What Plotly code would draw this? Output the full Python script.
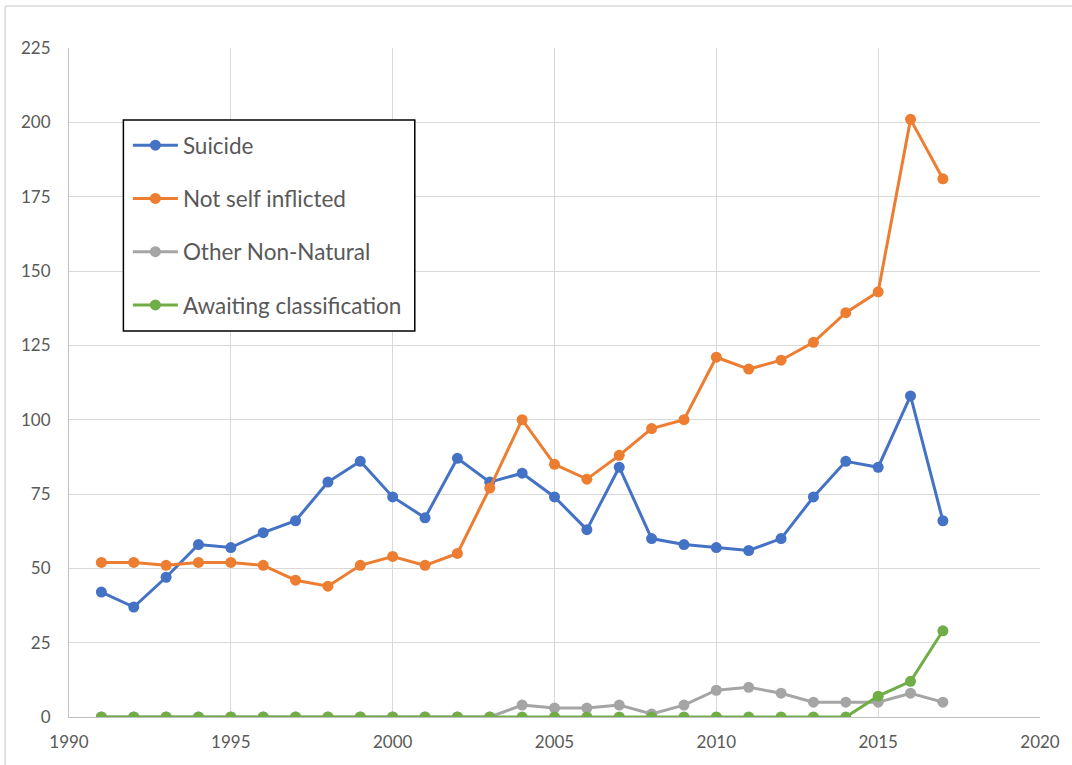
import plotly.graph_objects as go

years = list(range(1991, 2018))
suicide = [42, 37, 47, 58, 57, 62, 66, 79, 86, 74, 67, 87, 79, 82, 74, 63, 84, 60, 58, 57, 56, 60, 74, 86, 84, 108, 66]
not_self = [52, 52, 51, 52, 52, 51, 46, 44, 51, 54, 51, 55, 77, 100, 85, 80, 88, 97, 100, 121, 117, 120, 126, 136, 143, 201, 181]
other_nn = [0, 0, 0, 0, 0, 0, 0, 0, 0, 0, 0, 0, 0, 4, 3, 3, 4, 1, 4, 9, 10, 8, 5, 5, 5, 8, 5]
awaiting = [0, 0, 0, 0, 0, 0, 0, 0, 0, 0, 0, 0, 0, 0, 0, 0, 0, 0, 0, 0, 0, 0, 0, 0, 7, 12, 29]

series = [
    ("Suicide", suicide, "#4472C4"),
    ("Not self inflicted", not_self, "#ED7D31"),
    ("Other Non-Natural", other_nn, "#A5A5A5"),
    ("Awaiting classification", awaiting, "#70AD47"),
]

FONT = "Lato"
fig = go.Figure()
for i, (name, vals, col) in enumerate(series):
    fig.add_trace(go.Scatter(
        x=years, y=vals, name=name, mode="lines+markers",
        line=dict(color=col, width=3),
        marker=dict(color=col, size=11),
        legendgroup=f"g{i}",
    ))

W, H = 1072, 765
L, R, T, B = 69, 30, 48, 48
pw, ph = W - L - R, H - T - B

def px_x(p):
    return (p - L) / pw

def px_y(p):
    return (H - B - p) / ph

fig.update_layout(
    width=W, height=H,
    margin=dict(l=L, r=R, t=T, b=B),
    paper_bgcolor="white", plot_bgcolor="white",
    font=dict(family=FONT, color="#595959", size=17),
    legend=dict(
        x=px_x(128), y=px_y(124), xanchor="left", yanchor="top",
        bgcolor="rgba(0,0,0,0)", borderwidth=0,
        font=dict(size=22.5, color="#595959", family=FONT),
        tracegroupgap=21, itemwidth=45,
    ),
    xaxis=dict(
        range=[1990, 2020], dtick=5, tick0=1990,
        showgrid=True, gridcolor="#d9d9d9", gridwidth=1,
        showline=True, linecolor="#bfbfbf", linewidth=1,
        zeroline=False, ticks="", ticklabelstandoff=10,
        tickfont=dict(size=17, color="#595959"),
    ),
    yaxis=dict(
        range=[0, 225], dtick=25, tick0=0,
        showgrid=True, gridcolor="#d9d9d9", gridwidth=1,
        showline=True, linecolor="#bfbfbf", linewidth=1,
        zeroline=False, ticks="", ticklabelstandoff=14,
        tickfont=dict(size=17, color="#595959"),
    ),
    shapes=[
        dict(type="line", xref="paper", yref="paper",
             x0=px_x(5), x1=px_x(1080), y0=px_y(6), y1=px_y(6),
             line=dict(color="#d9d9d9", width=1.5)),
        dict(type="line", xref="paper", yref="paper",
             x0=px_x(5), x1=px_x(5), y0=px_y(6), y1=px_y(780),
             line=dict(color="#d9d9d9", width=1.5)),
        dict(type="rect", xref="paper", yref="paper", layer="above",
             x0=px_x(123.5), x1=px_x(415.5), y0=px_y(331), y1=px_y(120),
             fillcolor="white", line=dict(color="black", width=1.5)),
    ],
)

fig.write_html("out.html")
